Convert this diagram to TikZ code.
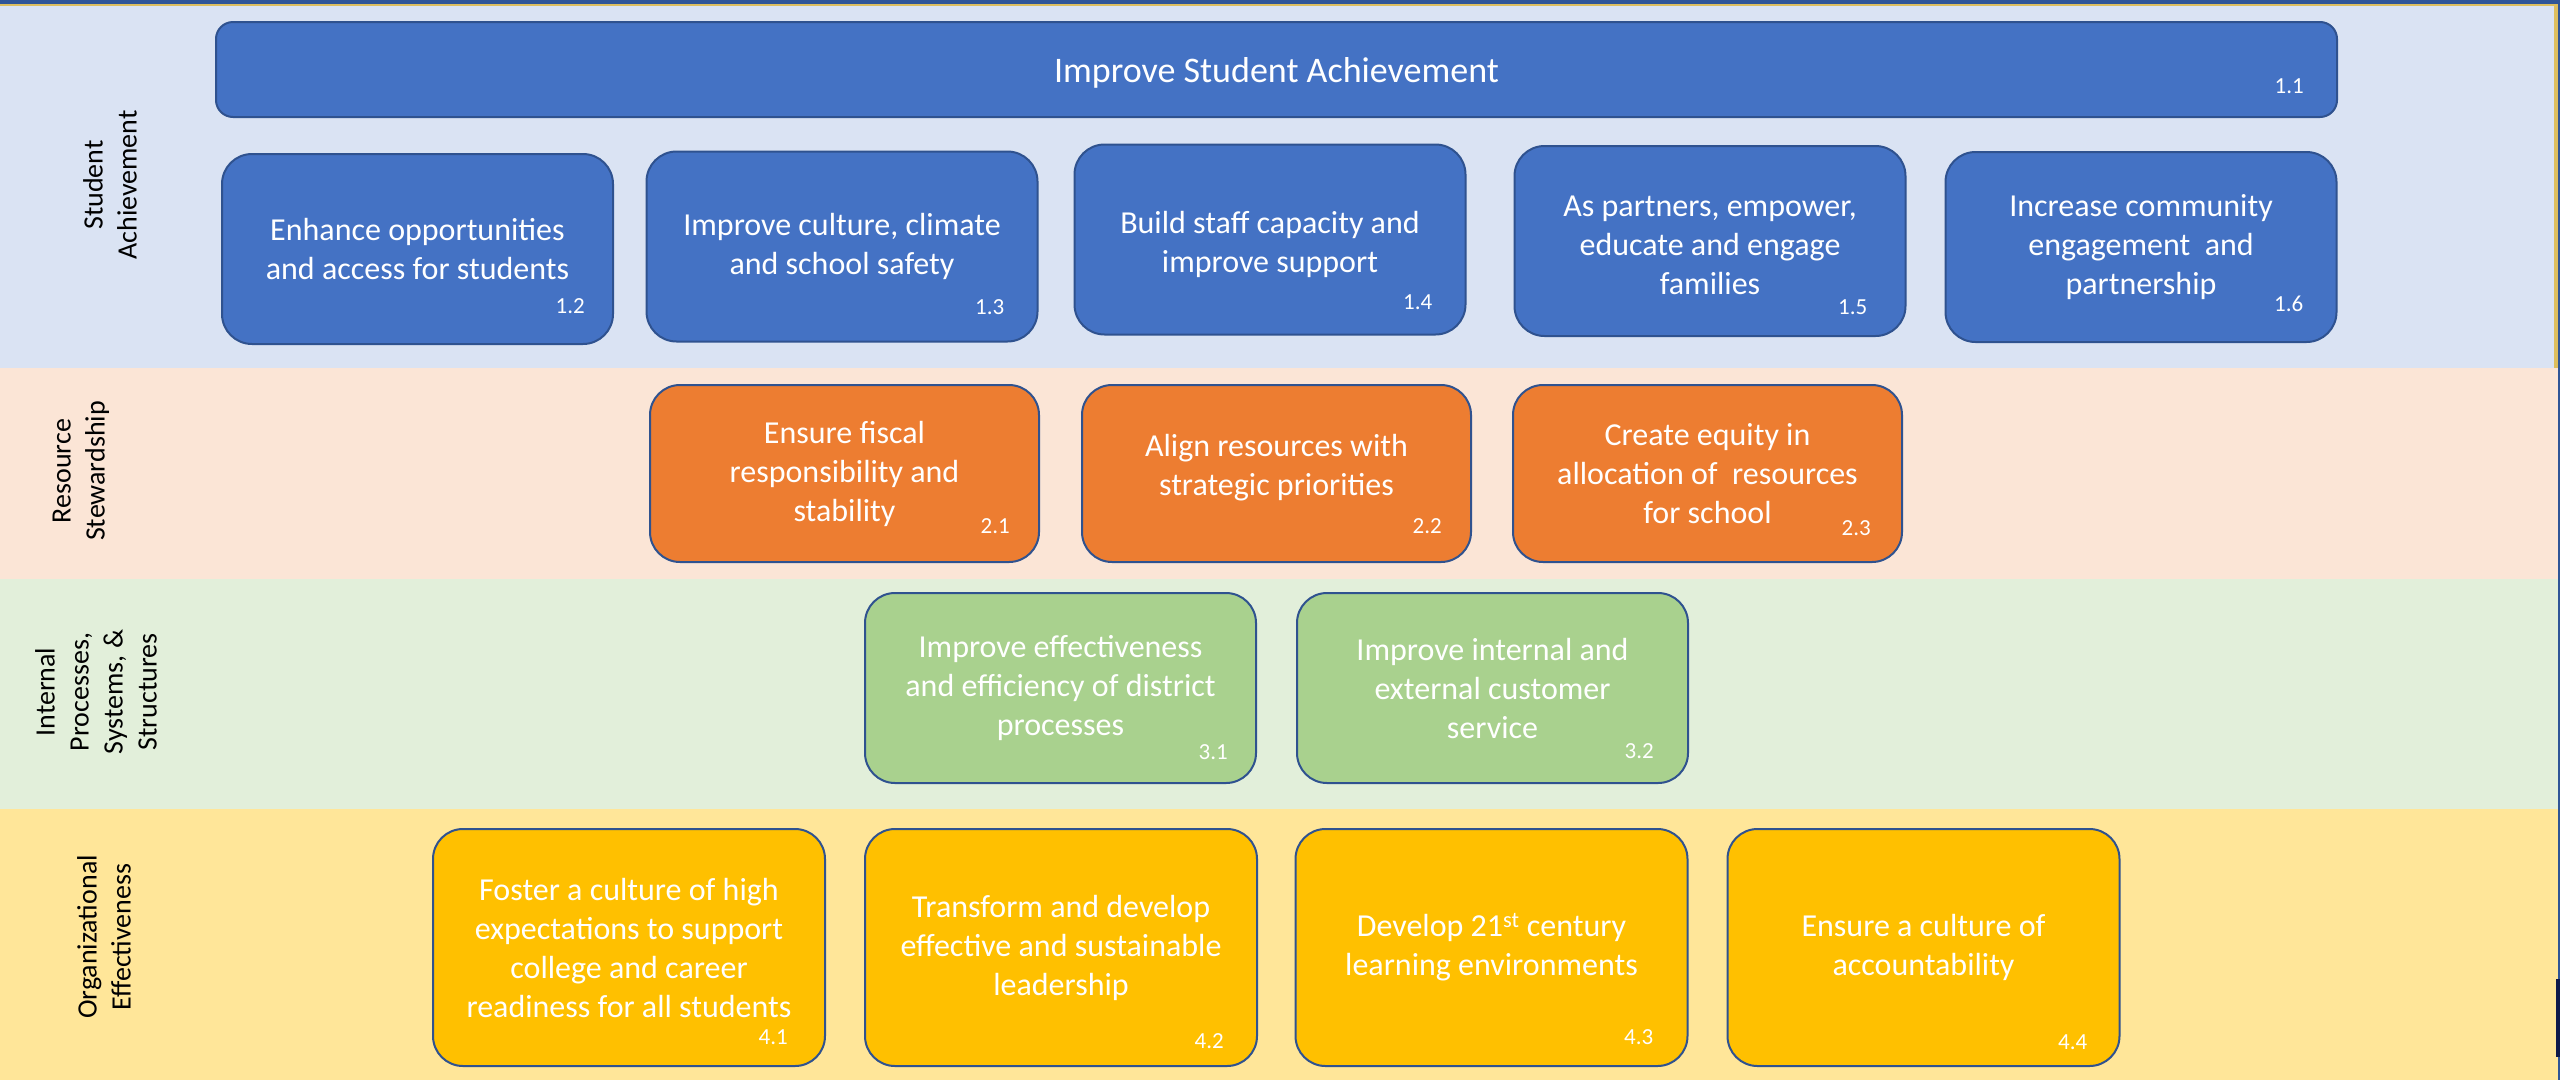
\documentclass[tikz,border=0pt]{standalone}
\usepackage{fontspec}
\setmainfont{Carlito}
\definecolor{bandA}{HTML}{DAE3F3}
\definecolor{bandB}{HTML}{FBE5D6}
\definecolor{bandC}{HTML}{E2EFDA}
\definecolor{bandD}{HTML}{FFE699}
\definecolor{boxblue}{HTML}{4472C4}
\definecolor{boxorange}{HTML}{ED7D31}
\definecolor{boxgreen}{HTML}{A9D18E}
\definecolor{boxgold}{HTML}{FFC000}
\definecolor{boxline}{HTML}{2F528F}
\definecolor{frameblue}{HTML}{2F5597}
\definecolor{framegold}{HTML}{DDBE5E}
\definecolor{navybar}{HTML}{0E1A4A}
\newcommand{\lowered}[2]{\raisebox{-#1}[\height][\depth]{\begin{tabular}{@{}c@{}}#2\end{tabular}}}
\begin{document}
\begin{tikzpicture}[x=1pt,y=-1pt,
  goal/.style={draw=boxline, line width=2pt, rounded corners=30pt, text=white,
    align=center, font=\fontsize{32}{39}\selectfont, inner sep=0pt},
  rowA/.style={goal, fill=boxblue, minimum width=391pt, minimum height=190pt},
  rowB/.style={goal, fill=boxorange, minimum width=389pt, minimum height=177pt},
  rowC/.style={goal, fill=boxgreen, minimum width=391pt, minimum height=190pt},
  rowD/.style={goal, fill=boxgold, minimum width=392pt, minimum height=237pt},
  num/.style={text=white, font=\fontsize{23}{26}\selectfont, anchor=base east, inner sep=0pt},
  side/.style={rotate=90, align=center, font=\fontsize{28}{34}\selectfont, inner sep=0pt, text=black}]
\useasboundingbox (0,0) rectangle (2560,1080);
% bands
\fill[bandA] (0,5) rectangle (2554,368);
\fill[bandB] (0,368) rectangle (2558,579);
\fill[bandC] (0,579) rectangle (2558,809);
\fill[bandD] (0,809) rectangle (2558,1080);
% frame
\fill[frameblue] (0,0) rectangle (2560,4);
\fill[framegold] (0,4) rectangle (2558,6);
\fill[framegold] (2554,4) rectangle (2558,368);
\fill[frameblue] (2558,0) rectangle (2560,1080);
\fill[navybar] (2556,979) rectangle (2560,1057);
% side labels
\node[side] (lA) at (110,185) {Student\\Achievement};
\node[side] (lB) at (81,471) {Resource\\Stewardship};
\node[side] (lC) at (96,692) {Internal\\Processes,\\Systems, \&\\Structures};
\node[side] (lD) at (104,937) {Organizational\\Effectiveness};
% title
\node[goal, fill=boxblue, rounded corners=17pt, minimum width=2121pt, minimum height=95pt,
  font=\fontsize{36}{43}\selectfont] (b11) at (1276.5,69.5) {\lowered{4pt}{Improve Student Achievement}};
\node[num] (n11) at ([xshift=-34pt,yshift=25pt]b11.south east) {1.1};
% row A
\node[rowA] (b12) at (417.5,249) {Enhance opportunities\\and access for students};
\node[rowA] (b13) at (842,246.5) {Improve culture, climate\\and school safety};
\node[rowA] (b14) at (1270,239.5) {\lowered{6pt}{Build staff capacity and\\improve support}};
\node[rowA] (b15) at (1710,241) {\lowered{7pt}{As partners, empower,\\educate and engage\\families}};
\node[rowA] (b16) at (2141,247) {Increase community\\engagement\ \ and\\partnership};
\node[num] (n12) at ([xshift=-29pt,yshift=32pt]b12.south east) {1.2};
\node[num] (n13) at ([xshift=-34pt,yshift=28pt]b13.south east) {1.3};
\node[num] (n14) at ([xshift=-34pt,yshift=26pt]b14.south east) {1.4};
\node[num] (n15) at ([xshift=-39pt,yshift=23pt]b15.south east) {1.5};
\node[num] (n16) at ([xshift=-34pt,yshift=32pt]b16.south east) {1.6};
% row B
\node[rowB] (b21) at (844.5,473.5) {Ensure fiscal\\responsibility and\\stability};
\node[rowB] (b22) at (1276.5,473.5) {Align resources with\\strategic priorities\\[-22pt]};
\node[rowB] (b23) at (1707.5,473.5) {Create equity in\\allocation of\ \ resources\\for school};
\node[num] (n21) at ([xshift=-30pt,yshift=30pt]b21.south east) {2.1};
\node[num] (n22) at ([xshift=-30pt,yshift=30pt]b22.south east) {2.2};
\node[num] (n23) at ([xshift=-32pt,yshift=28pt]b23.south east) {2.3};
% row C
\node[rowC] (b31) at (1060.5,688) {Improve effectiveness\\and efficiency of district\\processes};
\node[rowC] (b32) at (1492.5,688) {Improve internal and\\external customer\\service};
\node[num] (n31) at ([xshift=-29pt,yshift=25pt]b31.south east) {3.1};
\node[num] (n32) at ([xshift=-35pt,yshift=26pt]b32.south east) {3.2};
% row D
\node[rowD] (b41) at (629,947.5) {Foster a culture of high\\expectations to support\\college and career\\readiness for all students};
\node[rowD] (b42) at (1061,947.5) {Transform and develop\\effective and sustainable\\leadership};
\node[rowD] (b43) at (1491.5,947.5) {Develop 21\textsuperscript{st} century\\learning environments};
\node[rowD] (b44) at (1923.5,947.5) {Ensure a culture of\\accountability};
\node[num] (n41) at ([xshift=-38pt,yshift=23pt]b41.south east) {4.1};
\node[num] (n42) at ([xshift=-34pt,yshift=19pt]b42.south east) {4.2};
\node[num] (n43) at ([xshift=-35pt,yshift=23pt]b43.south east) {4.3};
\node[num] (n44) at ([xshift=-33pt,yshift=18pt]b44.south east) {4.4};
\end{tikzpicture}
\end{document}
